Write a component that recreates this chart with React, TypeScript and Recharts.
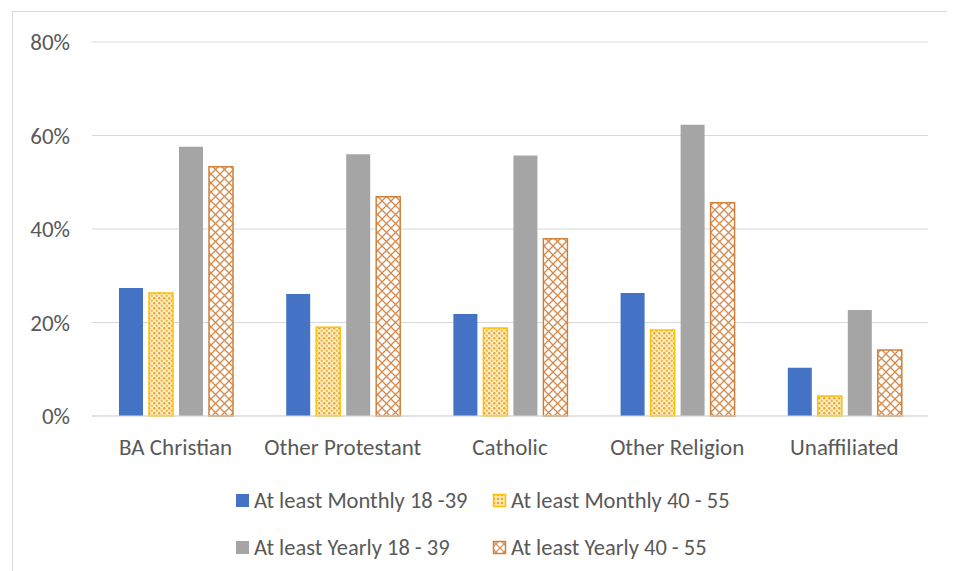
import { BarChart, Bar, XAxis, YAxis, CartesianGrid } from 'recharts';

const CATEGORIES = ['BA Christian', 'Other Protestant', 'Catholic', 'Other Religion', 'Unaffiliated'];
const MONTHLY_18_39 = [27.4, 26.1, 21.8, 26.3, 10.3];
const MONTHLY_40_55 = [26.3, 19.0, 18.8, 18.4, 4.3];
const YEARLY_18_39 = [57.6, 56.0, 55.7, 62.3, 22.7];
const YEARLY_40_55 = [53.3, 46.9, 37.9, 45.6, 14.1];
const Y_TICKS = [0, 20, 40, 60, 80];

const SERIES = [
  { key: 'm1839', label: 'At least Monthly 18 -39', fill: '#4472c4', stroke: 'none', legendFill: '#4472c4' },
  { key: 'm4055', label: 'At least Monthly 40 - 55', fill: 'url(#dots)', stroke: '#ffc000', legendFill: 'url(#ldots)' },
  { key: 'y1839', label: 'At least Yearly 18 - 39', fill: '#a5a5a5', stroke: 'none', legendFill: '#a5a5a5' },
  { key: 'y4055', label: 'At least Yearly 40 - 55', fill: 'url(#hatch)', stroke: '#d0803a', legendFill: 'url(#lhatch)' },
];

const data = CATEGORIES.map((name, i) => ({
  name,
  m1839: MONTHLY_18_39[i],
  m4055: MONTHLY_40_55[i],
  y1839: YEARLY_18_39[i],
  y4055: YEARLY_40_55[i],
}));

const FONT = 'Carlito, "Open Sans", "Liberation Sans", sans-serif';

function Swatch({ fill, stroke }: { fill: string; stroke: string }) {
  const plain = stroke === 'none';
  return (
    <svg width={15} height={15} style={{ marginRight: 4 }}>
      <defs>
        <pattern id="ldots" width="4" height="4" patternUnits="userSpaceOnUse">
          <rect width="4" height="4" fill="#fde9b0" />
          <circle cx="2" cy="2" r="1.2" fill="#eea030" />
        </pattern>
        <pattern id="lhatch" width="8" height="8" patternUnits="userSpaceOnUse">
          <rect width="8" height="8" fill="#fff" />
          <path d="M0,0 L8,8 M8,0 L0,8" stroke="#d48a4c" strokeWidth="1.2" />
        </pattern>
      </defs>
      <rect
        x={plain ? 1 : 1.5}
        y={plain ? 1 : 1.5}
        width={plain ? 13 : 12}
        height={plain ? 13 : 12}
        fill={fill}
        stroke={stroke}
        strokeWidth={1.5}
      />
    </svg>
  );
}

export default function App() {
  return (
    <div
      style={{
        position: 'relative',
        marginTop: 3,
        marginLeft: 4,
        width: 940,
        height: 570,
        border: '1px solid #d9d9d9',
        background: '#fff',
        fontFamily: FONT,
      }}
    >
      <BarChart
        width={940}
        height={460}
        data={data}
        margin={{ top: 30, right: 25, bottom: 0, left: 9 }}
        barSize={24}
        barGap={6}
      >
        <defs>
          <pattern id="dots" width="5" height="5" patternUnits="userSpaceOnUse">
            <rect width="5" height="5" fill="#fdf0c8" />
            <circle cx="1.25" cy="1.25" r="1.2" fill="#f0a030" />
            <circle cx="3.75" cy="3.75" r="1.2" fill="#f5b840" />
          </pattern>
          <pattern id="hatch" width="9" height="9" patternUnits="userSpaceOnUse">
            <rect width="9" height="9" fill="#fff" />
            <path d="M0,0 L9,9 M9,0 L0,9" stroke="#d48a4c" strokeWidth="1.3" />
          </pattern>
        </defs>
        <CartesianGrid vertical={false} stroke="#d9d9d9" />
        <XAxis
          dataKey="name"
          height={56}
          tickLine={false}
          axisLine={{ stroke: '#d9d9d9' }}
          tick={{ fontSize: 23, fill: '#595959', fontFamily: FONT }}
          tickMargin={17}
        />
        <YAxis
          width={70}
          domain={[0, 80]}
          ticks={Y_TICKS}
          tickFormatter={(v: number) => `${v}%`}
          axisLine={false}
          tickLine={false}
          tickSize={0}
          tickMargin={22}
          tick={{ fontSize: 23, fill: '#595959', fontFamily: FONT }}
        />
        {SERIES.map((s) => (
          <Bar
            key={s.key}
            dataKey={s.key}
            name={s.label}
            fill={s.fill}
            stroke={s.stroke}
            strokeWidth={1.5}
            isAnimationActive={false}
          />
        ))}
      </BarChart>
      <div
        style={{
          position: 'absolute',
          left: 222,
          top: 475,
          display: 'grid',
          gridTemplateColumns: '257px 280px',
          rowGap: 20,
          fontSize: 22.5,
          color: '#595959',
        }}
      >
        {SERIES.map((s) => (
          <div key={s.key} style={{ display: 'flex', alignItems: 'center', height: 27 }}>
            <Swatch fill={s.legendFill} stroke={s.stroke} />
            <span>{s.label}</span>
          </div>
        ))}
      </div>
    </div>
  );
}
